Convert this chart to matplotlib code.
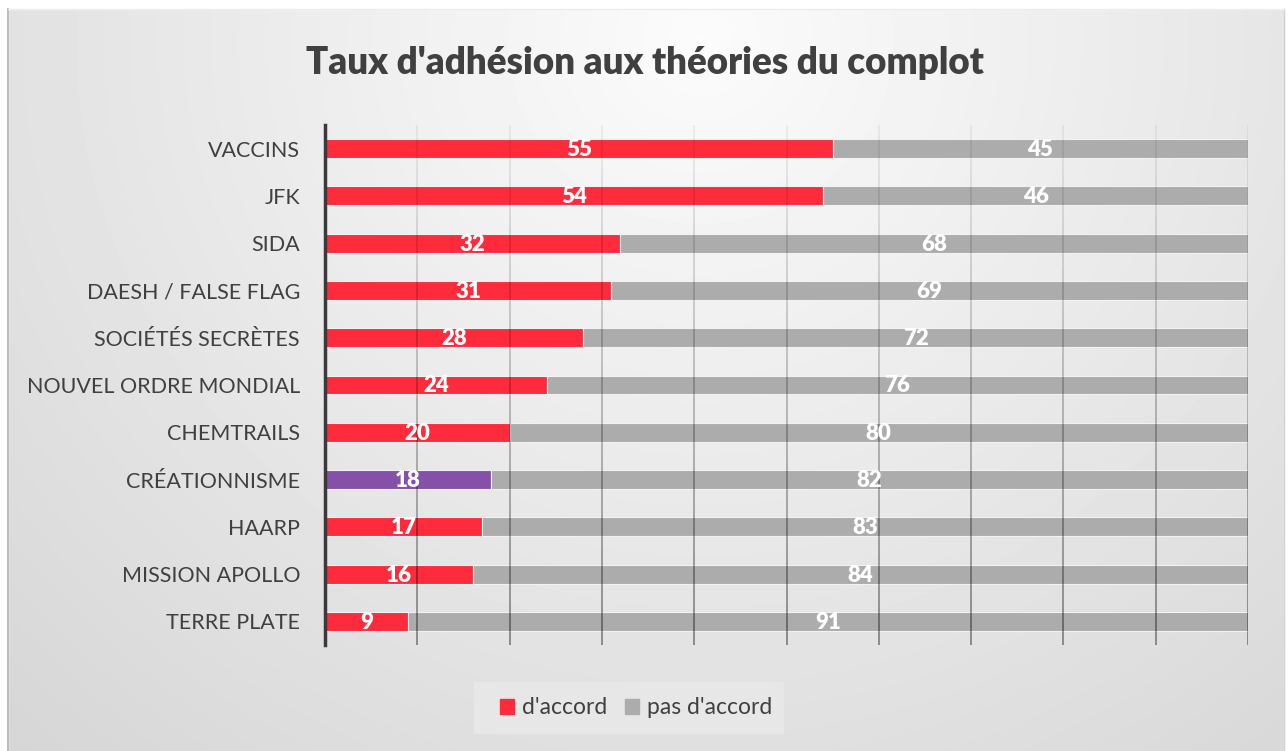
import numpy as np
import matplotlib.pyplot as plt
from matplotlib.patches import Rectangle
from matplotlib.collections import LineCollection

plt.rcParams['font.family'] = ['Lato', 'DejaVu Sans']

# Data
categories = ["VACCINS", "JFK", "SIDA", "DAESH / FALSE FLAG", "SOCIÉTÉS SECRÈTES",
              "NOUVEL ORDRE MONDIAL", "CHEMTRAILS", "CRÉATIONNISME", "HAARP",
              "MISSION APOLLO", "TERRE PLATE"]
agree = [55, 54, 32, 31, 28, 24, 20, 18, 17, 16, 9]
disagree = [45, 46, 68, 69, 72, 76, 80, 82, 83, 84, 91]
series_names = ["d'accord", "pas d'accord"]

RED = '#fd2b3b'
PURPLE = '#8450a8'
GRAY = '#acacac'
TXT = '#404040'

W, H = 1288, 751
fig = plt.figure(figsize=(W / 100, H / 100), dpi=100)
fig.patch.set_facecolor('white')

# Background panel with radial gradient
bg = fig.add_axes([0, 0, 1, 1], zorder=-10)
bg.set_xlim(0, W)
bg.set_ylim(H, 0)
bg.axis('off')
yy, xx = np.mgrid[0:H, 0:W]
r = np.sqrt(((xx - 700) / 1.0) ** 2 + ((yy - 40) / 0.95) ** 2)
shade = np.clip(0.985 - 1.45e-4 * r, 0.8, 1.0)
bg.imshow(shade, cmap='gray', vmin=0, vmax=1, extent=(0, W, H, 0), aspect='auto')
bg.add_patch(Rectangle((0, 0), 8, H, color='white', zorder=2))
bg.add_patch(Rectangle((0, 0), W, 9, color='white', zorder=2))
bg.add_patch(Rectangle((1284, 0), W - 1284, H, color='white', zorder=2))
bg.plot([8, 8], [9, H], color='#bdbdbd', lw=1.5, zorder=3)
bg.plot([1284, 1284], [9, H], color='#d0d0d0', lw=1, zorder=3)
bg.plot([8, 1284], [9, 9], color='#ececec', lw=1, zorder=3)
# legend box
bg.add_patch(Rectangle((474, 682), 310, 52, color='#e7e7e7', zorder=2, lw=0))

# Main axes
ax = fig.add_axes([325 / W, 1 - 645 / H, (1248 - 325) / W, (645 - 125) / H])
ax.patch.set_alpha(0)
n = len(categories)
y = np.arange(n)
colors = [PURPLE if c == "CRÉATIONNISME" else RED for c in categories]

ax.barh(y, agree, height=0.4, color=colors, edgecolor='#f2f2f2', linewidth=0.8, zorder=2)
ax.barh(y, disagree, left=agree, height=0.4, color=GRAY, edgecolor='#f2f2f2', linewidth=0.8, zorder=2)

for i in range(n):
    ax.text(agree[i] / 2, y[i] + 0.02, str(agree[i]), color='white', fontsize=16,
            fontweight='heavy', ha='center', va='center', zorder=4)
    ax.text(agree[i] + disagree[i] / 2, y[i] + 0.02, str(disagree[i]), color='white',
            fontsize=16, fontweight='heavy', ha='center', va='center', zorder=4)

ax.set_xlim(0, 100)
ax.set_ylim(n - 0.5, -0.5)

# gridlines fading from dark at bottom to light at top
segs, cols = [], []
steps = 40
ybounds = np.linspace(n - 0.5, -0.5, steps + 1)
for gx in range(10, 101, 10):
    for k in range(steps):
        segs.append([(gx, ybounds[k]), (gx, ybounds[k + 1])])
        a = 0.45 - 0.40 * (k / steps)
        cols.append((0, 0, 0, a))
ax.add_collection(LineCollection(segs, colors=cols, linewidths=1.2, zorder=3))

ax.set_yticks(y)
ax.set_yticklabels(categories, fontsize=15.5, color=TXT)
ax.tick_params(axis='y', length=0, pad=18)
ax.set_xticks([])
for s in ['top', 'right', 'bottom']:
    ax.spines[s].set_visible(False)
ax.spines['left'].set_color('#3a3a3a')
ax.spines['left'].set_linewidth(2.5)
ax.spines['left'].set_zorder(5)

fig.text(645 / W, 1 - 63 / H, "Taux d'adhésion aux théories du complot",
         fontsize=26.5, fontweight='heavy', color=TXT, ha='center', va='center')

# legend
handles = [Rectangle((0, 0), 1, 1, color=RED), Rectangle((0, 0), 1, 1, color=GRAY)]
fig.legend(handles, series_names, loc='center', bbox_to_anchor=(636 / W, 1 - 708 / H),
           ncol=2, frameon=False, fontsize=16.5, labelcolor=TXT,
           handlelength=0.6, handleheight=0.6, handletextpad=0.35, columnspacing=0.8)

fig.savefig('out.png', dpi=100)
